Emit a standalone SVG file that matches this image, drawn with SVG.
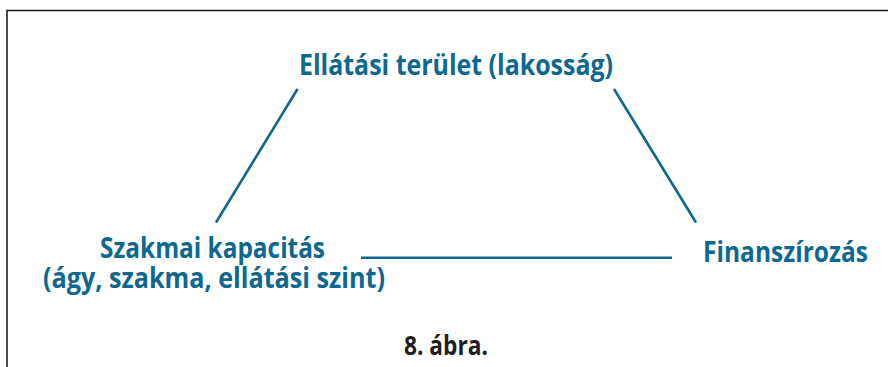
<svg xmlns="http://www.w3.org/2000/svg" width="888" height="367" viewBox="0 0 888 367">
<style>
.lbl{font-family:"Open Sans","Liberation Sans",sans-serif;font-weight:bold;font-size:28px;fill:#0d6890}
.cap{font-family:"Open Sans","Liberation Sans",sans-serif;font-weight:bold;font-size:26px;fill:#1e1e1e}
.edge{stroke:#0d6890;stroke-width:2.6;fill:none;stroke-linecap:butt}
</style>
<rect width="888" height="367" fill="#ffffff"/>
<path d="M7 380 V10.5 H900" fill="none" stroke="#1e1e1e" stroke-width="1.6"/>
<g id="connectors">
<line class="edge" x1="297.5" y1="89" x2="216" y2="222.5"/>
<line class="edge" x1="614" y1="89" x2="696" y2="222.5"/>
<line class="edge" x1="361" y1="257.7" x2="672" y2="257.7"/>
</g>
<g id="node-ellatasi">
<text class="lbl" x="299" y="75" textLength="314" lengthAdjust="spacingAndGlyphs">Ellátási terület (lakosság)</text>
</g>
<g id="node-szakmai">
<text class="lbl" x="100" y="258" textLength="225" lengthAdjust="spacingAndGlyphs">Szakmai kapacitás</text>
<text class="lbl" x="43" y="288" textLength="342" lengthAdjust="spacingAndGlyphs">(ágy, szakma, ellátási szint)</text>
</g>
<g id="node-finanszirozas">
<text class="lbl" x="703" y="262" textLength="165" lengthAdjust="spacingAndGlyphs">Finanszírozás</text>
</g>
<g id="caption">
<text class="cap" x="404" y="355" textLength="84" lengthAdjust="spacingAndGlyphs">8. ábra.</text>
</g>
</svg>
